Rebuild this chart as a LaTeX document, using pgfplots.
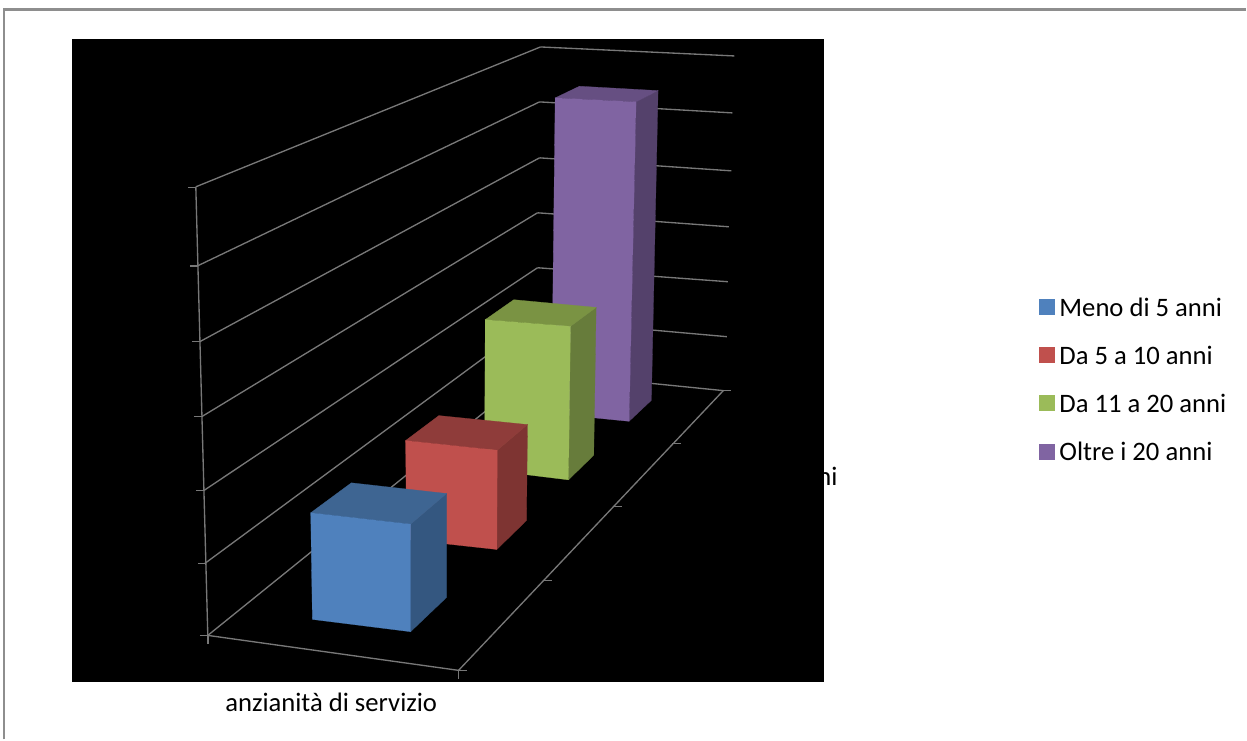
\documentclass[border=0pt]{standalone}
\usepackage{pgfplots}
\pgfplotsset{compat=1.18}
\usepackage{fontspec}
\setmainfont{Carlito}
\definecolor{gridgray}{HTML}{787878}
\definecolor{framegray}{HTML}{8E8E8E}
\definecolor{bluefront}{HTML}{4F81BD}
\definecolor{bluetop}{HTML}{3E6592}
\definecolor{blueside}{HTML}{345780}
\definecolor{redfront}{HTML}{C0504D}
\definecolor{redtop}{HTML}{8F3C3A}
\definecolor{redside}{HTML}{7E3432}
\definecolor{greenfront}{HTML}{9BBB59}
\definecolor{greentop}{HTML}{7A9343}
\definecolor{greenside}{HTML}{677C3B}
\definecolor{purplefront}{HTML}{8064A2}
\definecolor{purpletop}{HTML}{664F82}
\definecolor{purpleside}{HTML}{54416B}
\pgfplotsset{
  face/.style={fill=#1, draw=#1, line width=0.2pt, forget plot},
  rule/.style={draw=gridgray, line width=1pt, forget plot, no markers},
  tick/.style={draw=gridgray, line width=1.2pt, forget plot, no markers},
  swatch/.style={legend image code/.code={\fill[#1] (0pt,-2.9pt) rectangle (11.25pt,8.3pt);}},
}
\begin{document}
\begin{tikzpicture}
\begin{axis}[
  width=935.25pt, height=555pt, scale only axis,
  xmin=0, xmax=1247, ymin=0, ymax=740, y dir=reverse,
  axis lines=none, clip=false,
  legend style={
    at={(axis cs:1040,297)}, anchor=north west, draw=none, fill=none,
    font=\fontsize{20}{20}\selectfont, legend cell align=left,
    row sep=16.2pt, inner sep=0pt,
    nodes={inner xsep=3.5pt, inner ysep=1.5pt, text height=13pt, text depth=4pt},
  },
]
% page background and outer frame
\addplot[fill=white, draw=none, forget plot] coordinates {(0,0) (1247,0) (1247,740) (0,740)} -- cycle;
\addplot[draw=framegray, line width=1.8pt, forget plot] coordinates {(4,740) (4,9.5) (1247,9.5)};
% label of the depth axis, partly under the plot area
\node[anchor=base east, font=\fontsize{20}{20}\selectfont, text=black, inner sep=0pt] at (axis cs:838.5,486) {ni};
% plot area
\addplot[fill=black, draw=none, forget plot] coordinates {(72,39) (824.5,39) (824.5,682.5) (72,682.5)} -- cycle;
% side wall gridlines
\addplot[rule] coordinates {(196,187) (541,47)};
\addplot[rule] coordinates {(198,266) (540,102)};
\addplot[rule] coordinates {(200,342) (540,158)};
\addplot[rule] coordinates {(202,417) (538,213)};
\addplot[rule] coordinates {(204,491) (538,268)};
\addplot[rule] coordinates {(205,564) (536,320)};
\addplot[rule] coordinates {(208,636) (535,372)};
% back wall gridlines
\addplot[rule] coordinates {(541,47) (735,56)};
\addplot[rule] coordinates {(540,102) (733,113)};
\addplot[rule] coordinates {(540,158) (732,171)};
\addplot[rule] coordinates {(538,213) (729.5,227)};
\addplot[rule] coordinates {(538,268) (728.5,282)};
\addplot[rule] coordinates {(536,320) (727.5,337)};
\addplot[rule] coordinates {(535,372) (724,391)};
% value axis and floor edges
\addplot[rule] coordinates {(196,187) (208,636)};
\addplot[rule] coordinates {(208,636) (459,671)};
\addplot[rule] coordinates {(459,671) (724,391)};
% tick marks
\addplot[tick] coordinates {(188,187.5) (196,187.5)};
\addplot[tick] coordinates {(190,266) (198,266)};
\addplot[tick] coordinates {(192,342) (200,342)};
\addplot[tick] coordinates {(194,417) (202,417)};
\addplot[tick] coordinates {(196,491) (204,491)};
\addplot[tick] coordinates {(198,564) (206,564)};
\addplot[tick] coordinates {(200,636) (208,636)};
\addplot[tick] coordinates {(208,636) (208,645)};
\addplot[tick] coordinates {(459,671) (459,680)};
\addplot[tick] coordinates {(459,671) (467,671)};
\addplot[tick] coordinates {(544,581) (553,581)};
\addplot[tick] coordinates {(614,507) (623,507)};
\addplot[tick] coordinates {(673,444) (682,444)};
\addplot[tick] coordinates {(724,391) (732,391)};
% Oltre i 20 anni
\addplot[face=purpleside] coordinates {(636.7,102) (658.7,90.7) (652,400.7) (629.7,421.7)} -- cycle;
\addplot[face=purpletop] coordinates {(555.7,98) (580,86.3) (658.7,90.7) (636.7,102)} -- cycle;
\addplot[face=purplefront] coordinates {(555.7,98) (636.7,102) (629.7,421.7) (552,414)} -- cycle;
% Da 11 a 20 anni
\addplot[face=greenside] coordinates {(571,326.7) (596.7,307.7) (594.3,455.7) (569,480.3)} -- cycle;
\addplot[face=greentop] coordinates {(485.7,320) (514.3,300) (596.7,307.7) (571,326.7)} -- cycle;
\addplot[face=greenfront] coordinates {(485.7,320) (571,326.7) (569,480.3) (485,470)} -- cycle;
% Da 5 a 10 anni
\addplot[face=redside] coordinates {(497.7,450.7) (528,425) (527,521) (497.3,550)} -- cycle;
\addplot[face=redtop] coordinates {(406,441) (439.3,416) (528,425) (497.7,450.7)} -- cycle;
\addplot[face=redfront] coordinates {(406,441) (497.7,450.7) (497.3,550) (407,540)} -- cycle;
% Meno di 5 anni
\addplot[face=blueside] coordinates {(411,524.7) (447,494) (447,598) (411,632.3)} -- cycle;
\addplot[face=bluetop] coordinates {(311,513.3) (351.7,483.3) (447,494) (411,524.7)} -- cycle;
\addplot[face=bluefront] coordinates {(311,513.3) (411,524.7) (411,632.3) (312.7,620)} -- cycle;
% legend
\addlegendimage{swatch=bluefront}
\addlegendentry{Meno di 5 anni}
\addlegendimage{swatch=redfront}
\addlegendentry{Da 5 a 10 anni}
\addlegendimage{swatch=greenfront}
\addlegendentry{Da 11 a 20 anni}
\addlegendimage{swatch=purplefront}
\addlegendentry{Oltre i 20 anni}
% category axis title
\node[anchor=base, font=\fontsize{20}{20}\selectfont, text=black, inner sep=0pt] at (axis cs:331.5,712) {anzianità di servizio};
\end{axis}
\end{tikzpicture}
\end{document}
